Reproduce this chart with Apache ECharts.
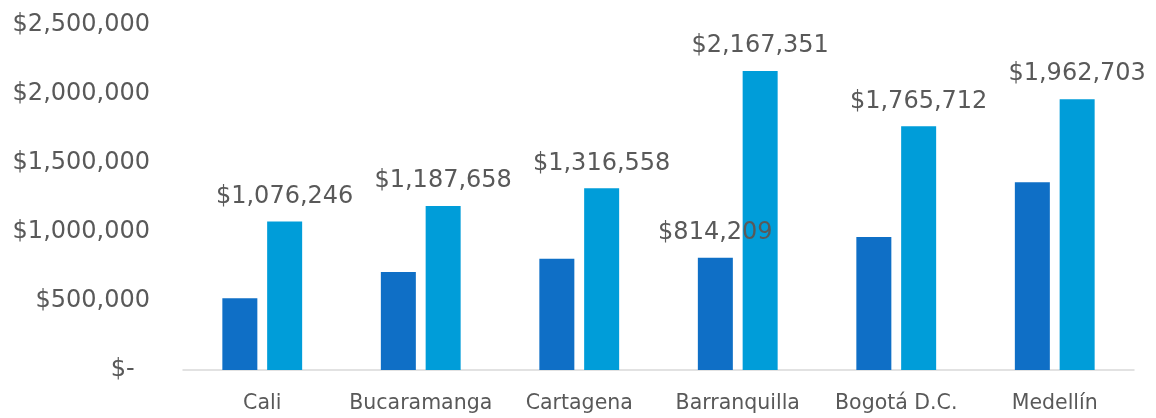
<!DOCTYPE html>
<html>
<head>
<meta charset="utf-8">
<script src="https://cdn.jsdelivr.net/npm/echarts@6/dist/echarts.min.js"></script>
<style>html,body{margin:0;padding:0;background:#fff}#c{width:1156px;height:418px}</style>
</head>
<body>
<div id="c"></div>
<script>
const categories = ['Cali', 'Bucaramanga', 'Cartagena', 'Barranquilla', 'Bogotá D.C.', 'Medellín'];
const seriesDark = [520000, 710000, 807000, 814209, 963000, 1360000];
const seriesLight = [1076246, 1187658, 1316558, 2167351, 1765712, 1962703];
const darkLabelIndex = [3];
const yTicks = [0, 500000, 1000000, 1500000, 2000000, 2500000];

function money(v) {
  if (v === 0) return '$-  ';
  return '$' + Math.round(v).toLocaleString('en-US');
}
const FONT = 'DejaVu Sans';
const TXT = '#595959';

const chart = echarts.init(document.getElementById('c'));
chart.setOption({
  animation: false,
  grid: { left: 183, right: 22, top: 25, bottom: 48, containLabel: false },
  xAxis: {
    type: 'category',
    data: categories,
    axisLine: { lineStyle: { color: '#D9D9D9', width: 1.5 } },
    axisTick: { show: false },
    axisLabel: { interval: 0, color: TXT, fontFamily: FONT, fontSize: 20.5, margin: 23 }
  },
  yAxis: {
    type: 'value',
    min: yTicks[0],
    max: yTicks[yTicks.length - 1],
    interval: yTicks[1] - yTicks[0],
    splitLine: { show: false },
    axisLine: { show: false },
    axisTick: { show: false },
    axisLabel: { color: TXT, fontFamily: FONT, fontSize: 24, margin: 33, formatter: money }
  },
  series: [
    {
      type: 'bar',
      barWidth: 35,
      barGap: '28%',
      itemStyle: { color: '#0F6FC6' },
      data: seriesDark.map((v, i) => ({
        value: v,
        label: { show: darkLabelIndex.includes(i) }
      })),
      label: {
        position: 'top', distance: 13, color: TXT, fontFamily: FONT, fontSize: 24,
        formatter: p => money(p.value)
      },
      z: 3
    },
    {
      type: 'bar',
      barWidth: 35,
      barGap: '28%',
      itemStyle: { color: '#009DD9' },
      data: seriesLight,
      label: {
        show: true, position: 'top', distance: 13, color: TXT, fontFamily: FONT, fontSize: 24,
        formatter: p => money(p.value)
      },
      z: 2
    }
  ]
});
</script>
</body>
</html>
